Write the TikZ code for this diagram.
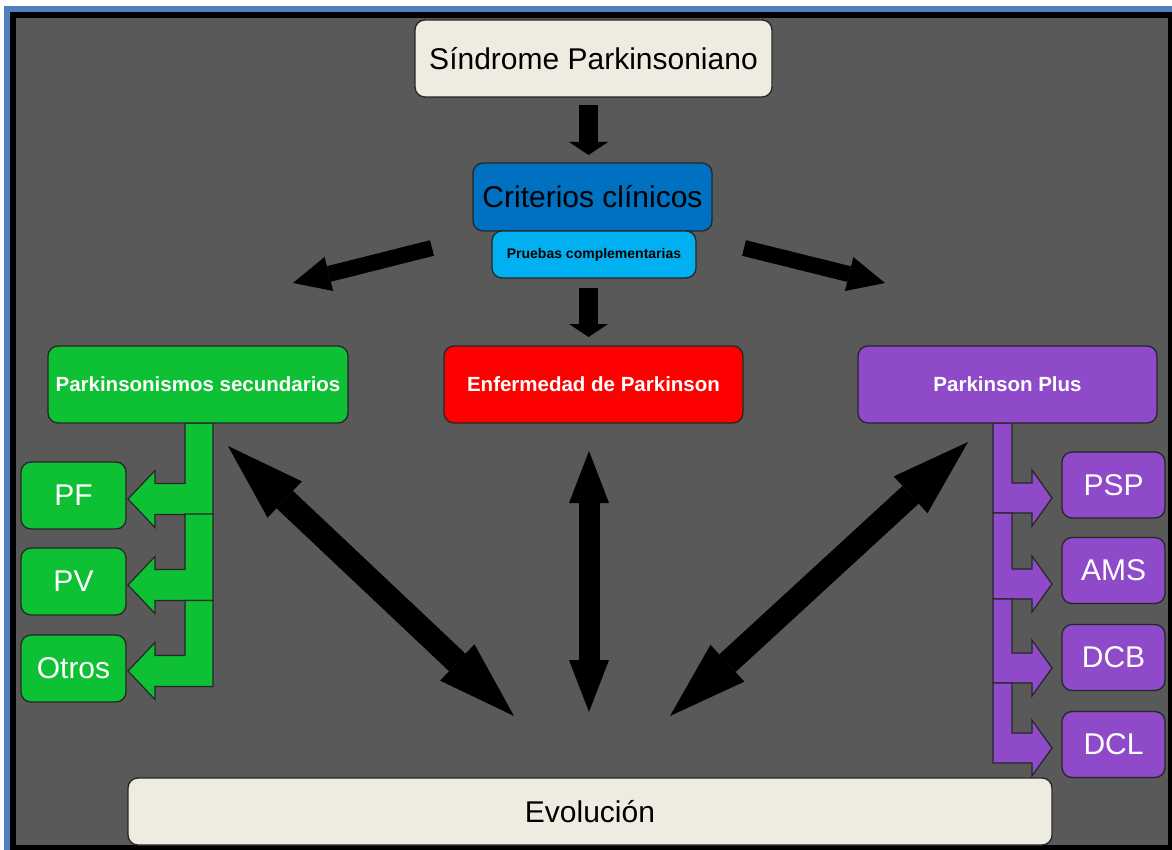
\documentclass[tikz,border=0pt]{standalone}
\usepackage{fontspec}
\setmainfont{Liberation Sans}
\usetikzlibrary{arrows.meta}
\definecolor{bg}{HTML}{595959}
\definecolor{frameblue}{HTML}{4F81BD}
\definecolor{beige}{HTML}{EEECE1}
\definecolor{critblue}{HTML}{0070C0}
\definecolor{lightblue}{HTML}{00B0F0}
\definecolor{pgreen}{HTML}{0EC134}
\definecolor{ppurple}{HTML}{8E4AC9}
\definecolor{edge}{HTML}{262626}
\newcommand{\greenbent}[2]{%
  \filldraw[bentg] (185,#1) -- (213,#1) -- (213,{#2+15.5}) -- (155,{#2+15.5}) -- (155,{#2+28.5}) -- (128,#2) -- (155,{#2-28.5}) -- (155,{#2-15.5}) -- (185,{#2-15.5}) -- cycle;}
\newcommand{\purplebent}[2]{%
  \filldraw[bentp] (993,#1) -- (1012,#1) -- (1012,{#2-15}) -- (1032,{#2-15}) -- (1032,{#2-28}) -- (1052,#2) -- (1032,{#2+28}) -- (1032,{#2+15}) -- (993,{#2+15}) -- cycle;}
\begin{document}
\begin{tikzpicture}[x=1pt,y=-1pt,
  box/.style={draw=edge,line width=1.3pt,rounded corners=10pt,inner sep=0pt,align=center},
  bigtext/.style={font=\fontsize{30}{36}\selectfont},
  boldtext/.style={font=\fontsize{20.5}{24}\selectfont\bfseries},
  bentg/.style={fill=pgreen,draw=edge,line width=1.2pt,line join=miter},
  bentp/.style={fill=ppurple,draw=edge,line width=1.2pt,line join=miter},
  smallarrow/.style={draw=black,line width=16pt,-{Triangle[length=37pt,width=35pt,line width=0pt]}},
  downarrow/.style={draw=black,line width=19pt,-{Triangle[length=13pt,width=39pt,line width=0pt]}},
  dblarrow/.style={draw=black,line width=24pt,{Triangle[length=78pt,width=50pt,line width=0pt]}-{Triangle[length=78pt,width=50pt,line width=0pt]}},
  vdblarrow/.style={draw=black,line width=21pt,{Triangle[length=52pt,width=40pt,line width=0pt]}-{Triangle[length=52pt,width=40pt,line width=0pt]}}
]
\useasboundingbox (0,0) rectangle (1172,850);
\fill[white] (0,0) rectangle (1172,850);
\fill[frameblue] (4,6) rectangle (1172,850);
\fill[black] (10,12) rectangle (1172,850);
\fill[bg] (16,18) rectangle (1168,845);

% bent arrows
\greenbent{423}{499}
\greenbent{514}{585}
\greenbent{600.5}{671}
\purplebent{423}{498}
\purplebent{513}{584}
\purplebent{599}{668}
\purplebent{683}{748}

% nodes
\node[box,fill=beige,bigtext,minimum width=357pt,minimum height=77pt] (sind) at (593.5,58.5) {Síndrome Parkinsoniano};
\node[box,fill=critblue,bigtext,minimum width=239pt,minimum height=68pt] (crit) at (592.5,197) {Criterios clínicos};
\node[box,fill=lightblue,font=\fontsize{14}{16}\selectfont\bfseries,minimum width=204pt,minimum height=47pt] (prue) at (594,254.5) {Pruebas complementarias};
\node[box,fill=red,boldtext,text=white,minimum width=299pt,minimum height=77pt] (enf) at (593.5,384.5) {Enfermedad de Parkinson};
\node[box,fill=pgreen,boldtext,text=white,minimum width=300pt,minimum height=77pt] (sec) at (198,384.5) {Parkinsonismos secundarios};
\node[box,fill=ppurple,boldtext,text=white,minimum width=299pt,minimum height=77pt] (plus) at (1007.5,384.5) {Parkinson Plus};

\node[box,fill=pgreen,bigtext,text=white,minimum width=105pt,minimum height=67pt] (pf) at (73.5,495.5) {PF};
\node[box,fill=pgreen,bigtext,text=white,minimum width=105pt,minimum height=67pt] (pv) at (73.5,581.5) {PV};
\node[box,fill=pgreen,bigtext,text=white,minimum width=105pt,minimum height=67pt] (otros) at (73.5,668.5) {Otros};

\node[box,fill=ppurple,bigtext,text=white,minimum width=103pt,minimum height=66pt] (psp) at (1113.5,485) {PSP};
\node[box,fill=ppurple,bigtext,text=white,minimum width=103pt,minimum height=66pt] (ams) at (1113.5,570.5) {AMS};
\node[box,fill=ppurple,bigtext,text=white,minimum width=103pt,minimum height=66pt] (dcb) at (1113.5,657.5) {DCB};
\node[box,fill=ppurple,bigtext,text=white,minimum width=103pt,minimum height=66pt] (dcl) at (1113.5,744.5) {DCL};

\node[box,fill=beige,bigtext,minimum width=924pt,minimum height=67pt] (evol) at (590,811.5) {Evolución};

% arrow endpoints
\coordinate (d1s) at (588.5,105);
\coordinate (d1e) at (588.5,155);
\coordinate (d2s) at (588.5,288);
\coordinate (d2e) at (588.5,337);
\coordinate (lds) at (432,248);
\coordinate (lde) at (293,283);
\coordinate (rds) at (744,248);
\coordinate (rde) at (885,283);
\coordinate (l1) at (228,446);
\coordinate (l2) at (514,716);
\coordinate (c1) at (589,451);
\coordinate (c2) at (589,712);
\coordinate (r1) at (968,442);
\coordinate (r2) at (670,716);

\draw[downarrow] (d1s) -- (d1e);
\draw[downarrow] (d2s) -- (d2e);
\draw[smallarrow] (lds) -- (lde);
\draw[smallarrow] (rds) -- (rde);
\draw[dblarrow] (l1) -- (l2);
\draw[vdblarrow] (c1) -- (c2);
\draw[dblarrow] (r1) -- (r2);
\end{tikzpicture}
\end{document}
